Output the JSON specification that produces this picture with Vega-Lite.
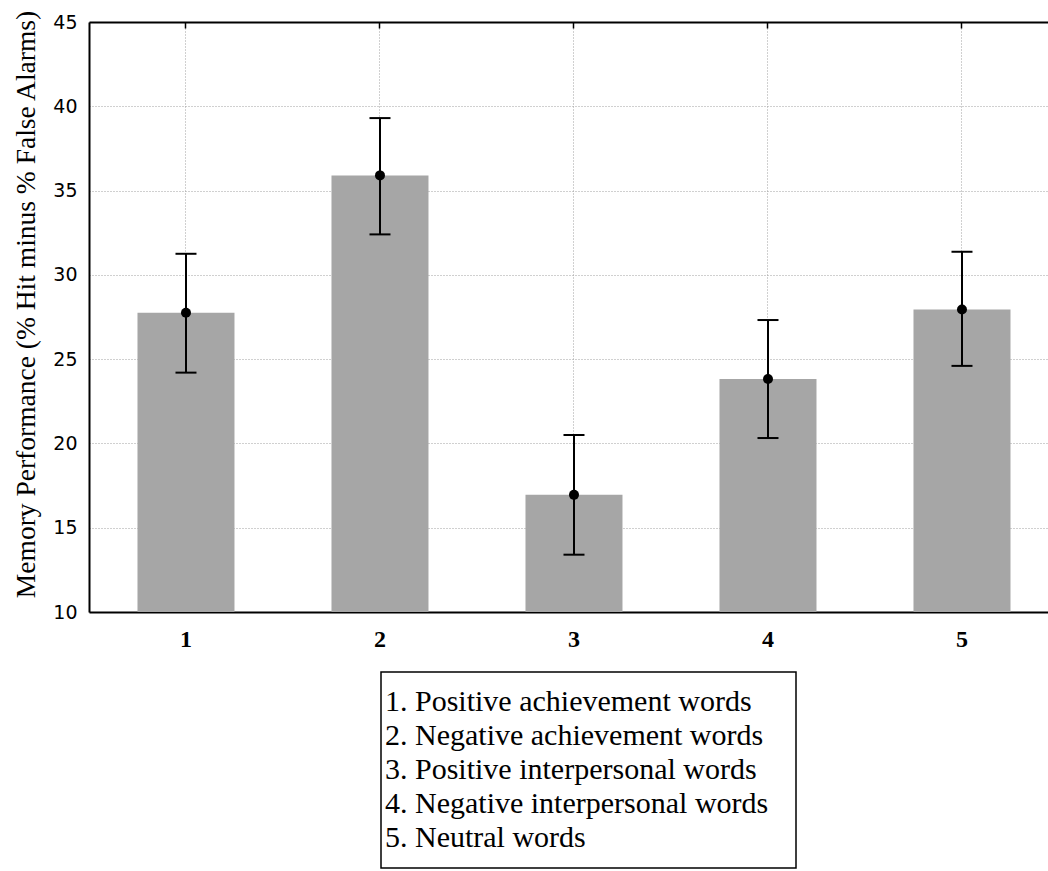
{
  "$schema": "https://vega.github.io/schema/vega-lite/v6.json",
  "width": 961,
  "height": 590,
  "padding": {"left": 12, "top": 9, "right": 0, "bottom": 0},
  "background": "white",
  "config": {
    "view": {"stroke": null},
    "legend": {"strokeWidth": 1.5, "labelFont": "Liberation Serif", "labelFontSize": 30, "labelColor": "black"}
  },
  "data": {
    "values": [
      {"cond": "1", "name": "1. Positive achievement words", "mean": 27.75, "lo": 24.2, "hi": 31.25},
      {"cond": "2", "name": "2. Negative achievement words", "mean": 35.9, "lo": 32.4, "hi": 39.3},
      {"cond": "3", "name": "3. Positive interpersonal words", "mean": 16.95, "lo": 13.4, "hi": 20.5},
      {"cond": "4", "name": "4. Negative interpersonal words", "mean": 23.82, "lo": 20.32, "hi": 27.32},
      {"cond": "5", "name": "5. Neutral words", "mean": 27.95, "lo": 24.6, "hi": 31.37}
    ]
  },
  "layer": [
    {
      "mark": {"type": "bar", "clip": true},
      "encoding": {
        "x": {
          "field": "cond", "type": "nominal",
          "scale": {"paddingInner": 0.5, "paddingOuter": 0.2268, "align": 0.551},
          "axis": {
            "orient": "bottom", "title": null, "labelAngle": 0, "bandPosition": 0.5,
            "labelFont": "Liberation Serif", "labelFontWeight": "bold", "labelFontSize": 24, "labelColor": "black",
            "labelPadding": 21, "ticks": true, "tickSize": -6, "tickColor": "black", "tickWidth": 1.5,
            "domainColor": "black", "domainWidth": 2,
            "grid": true, "gridColor": "#a0a0a0", "gridDash": [1, 2], "gridWidth": 1
          }
        },
        "y": {
          "field": "mean", "type": "quantitative", "stack": null,
          "scale": {"domain": [10, 45], "nice": false, "zero": false},
          "title": "Memory Performance (% Hit minus % False Alarms)",
          "axis": {
            "values": [10, 15, 20, 25, 30, 35, 40, 45],
            "labelFont": "DejaVu Sans", "labelFontSize": 19, "labelColor": "black", "labelPadding": 12,
            "ticks": false, "domainColor": "black", "domainWidth": 2,
            "grid": true, "gridColor": "#a0a0a0", "gridDash": [1, 2], "gridWidth": 1,
            "titleFont": "Liberation Serif", "titleFontSize": 27.5, "titleFontWeight": "normal", "titleColor": "black", "titlePadding": 12,
            "titleY": 282
          }
        },
        "color": {
          "field": "name", "type": "nominal",
          "scale": {"range": ["#a6a6a6", "#a6a6a6", "#a6a6a6", "#a6a6a6", "#a6a6a6"]},
          "legend": {
            "orient": "none", "legendX": 292, "legendY": 650, "title": " ", "titleOrient": "right", "titlePadding": 13,
            "titleFontSize": 4, "direction": "vertical",
            "symbolSize": 0, "symbolOpacity": 0, "symbolStrokeWidth": 0, "symbolType": "square",
            "labelFont": "Liberation Serif", "labelFontSize": 30, "labelColor": "black", "labelLimit": 600,
            "labelOffset": -41, "padding": 15, "rowPadding": 4,
            "strokeColor": "black", "fillColor": "white"
          }
        }
      }
    },
    {
      "mark": {"type": "rule", "color": "black", "strokeWidth": 2},
      "encoding": {
        "x": {"field": "cond", "type": "nominal", "axis": null},
        "y": {"field": "lo", "type": "quantitative", "scale": {"domain": [10, 45], "nice": false, "zero": false}, "title": "Memory Performance (% Hit minus % False Alarms)"},
        "y2": {"field": "hi"}
      }
    },
    {
      "mark": {"type": "tick", "color": "black", "thickness": 2, "size": 21, "opacity": 1},
      "encoding": {
        "x": {"field": "cond", "type": "nominal", "axis": null},
        "y": {"field": "lo", "type": "quantitative", "scale": {"domain": [10, 45], "nice": false, "zero": false}, "title": "Memory Performance (% Hit minus % False Alarms)"}
      }
    },
    {
      "mark": {"type": "tick", "color": "black", "thickness": 2, "size": 21, "opacity": 1},
      "encoding": {
        "x": {"field": "cond", "type": "nominal", "axis": null},
        "y": {"field": "hi", "type": "quantitative", "scale": {"domain": [10, 45], "nice": false, "zero": false}, "title": "Memory Performance (% Hit minus % False Alarms)"}
      }
    },
    {
      "mark": {"type": "point", "filled": true, "color": "black", "size": 100, "opacity": 1},
      "encoding": {
        "x": {
          "field": "cond", "type": "nominal",
          "axis": {
            "orient": "top", "title": null, "labels": false, "bandPosition": 0.5,
            "ticks": true, "tickSize": -6, "tickColor": "black", "tickWidth": 1.5,
            "domainColor": "black", "domainWidth": 2, "grid": false
          }
        },
        "y": {"field": "mean", "type": "quantitative", "scale": {"domain": [10, 45], "nice": false, "zero": false}, "title": "Memory Performance (% Hit minus % False Alarms)"}
      }
    }
  ],
  "resolve": {"axis": {"x": "independent"}}
}
